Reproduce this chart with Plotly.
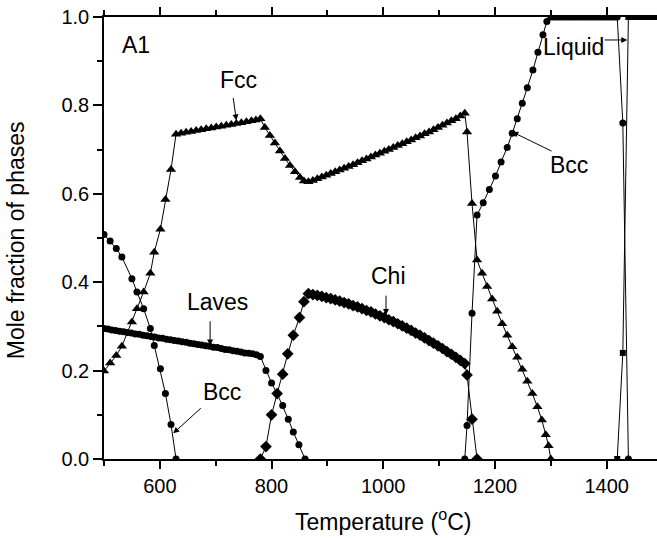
import plotly.graph_objects as go

# ---- phase fractions vs temperature (alloy A1) ----
fcc_T = [500, 511, 522, 532, 550, 559, 571, 583, 590, 601, 610, 620, 629,
         638, 647, 656, 665, 674, 683, 692, 701, 710, 719, 728, 737, 746, 755, 764, 772, 780,
         788, 797, 806, 815, 824, 833, 842, 851, 858,
         866, 874, 882, 890, 898, 906, 914, 922, 930, 938, 946, 954, 962, 970, 978, 986, 994,
         1002, 1010, 1018, 1026, 1034, 1042, 1050, 1058, 1066, 1074, 1082, 1090, 1098, 1106,
         1114, 1122, 1130, 1138, 1146,
         1150, 1159, 1168, 1177, 1186, 1195, 1204, 1213, 1222, 1231, 1240, 1249, 1258, 1267,
         1276, 1284, 1291, 1296, 1300]
fcc_f = [0.199, 0.217, 0.234, 0.255, 0.310, 0.340, 0.378, 0.420, 0.468, 0.520, 0.587, 0.655, 0.735,
         0.737, 0.739, 0.741, 0.743, 0.745, 0.747, 0.749, 0.751, 0.753, 0.755, 0.757, 0.759, 0.761,
         0.763, 0.765, 0.767, 0.770,
         0.750, 0.732, 0.715, 0.697, 0.680, 0.664, 0.650, 0.637, 0.629,
         0.627, 0.630, 0.634, 0.638, 0.642, 0.646, 0.650, 0.654, 0.658, 0.662, 0.666, 0.670, 0.675,
         0.679, 0.683, 0.688, 0.692, 0.696, 0.700, 0.705, 0.709, 0.713, 0.718, 0.722, 0.727, 0.731,
         0.736, 0.740, 0.745, 0.750, 0.755, 0.760, 0.765, 0.770, 0.776, 0.782,
         0.740, 0.578, 0.450, 0.420, 0.390, 0.362, 0.334, 0.306, 0.280, 0.254, 0.230, 0.203, 0.176,
         0.148, 0.118, 0.088, 0.055, 0.030, 0.000]

bcc_low_T = [500, 511, 522, 532, 550, 559, 571, 583, 590, 601, 610, 620, 629]
bcc_low_f = [0.508, 0.493, 0.476, 0.457, 0.408, 0.378, 0.340, 0.295, 0.257, 0.204, 0.148, 0.078, 0.000]

bcc_high_T = [1146, 1150, 1159, 1168, 1179, 1190, 1201, 1211, 1222, 1231, 1240, 1249, 1258, 1268,
              1277, 1286, 1293, 1300, 1305, 1310, 1315, 1320, 1325, 1330, 1335, 1340, 1345, 1350,
              1355, 1360, 1365, 1370, 1375, 1380, 1385, 1390, 1395, 1400, 1405, 1410, 1415, 1419,
              1429, 1439]
bcc_high_f = [0.000, 0.076, 0.330, 0.552, 0.580, 0.610, 0.640, 0.672, 0.705, 0.737, 0.770, 0.805,
              0.840, 0.880, 0.920, 0.960, 0.990, 1.000, 1.000, 1.000, 1.000, 1.000, 1.000, 1.000,
              1.000, 1.000, 1.000, 1.000, 1.000, 1.000, 1.000, 1.000, 1.000, 1.000, 1.000, 1.000,
              1.000, 1.000, 1.000, 1.000, 1.000, 1.000, 0.760, 0.000]

laves_T = [500, 507, 514, 521, 528, 535, 542, 549, 556, 563, 570, 577, 584, 591, 598, 605, 612,
           619, 626, 633, 640, 647, 654, 661, 668, 675, 682, 689, 696, 703, 710, 717, 724, 731,
           738, 745, 752, 759, 766, 773, 780,
           790, 800, 810, 820, 830, 839, 849, 860]
laves_f = [0.295, 0.294, 0.292, 0.291, 0.289, 0.288, 0.286, 0.285, 0.283, 0.282, 0.280, 0.279,
           0.277, 0.276, 0.274, 0.273, 0.271, 0.270, 0.268, 0.267, 0.265, 0.264, 0.262, 0.261,
           0.259, 0.258, 0.256, 0.255, 0.253, 0.252, 0.250, 0.248, 0.247, 0.245, 0.244, 0.242,
           0.240, 0.239, 0.238, 0.236, 0.232,
           0.200, 0.172, 0.148, 0.121, 0.090, 0.061, 0.032, 0.000]

chi_T = [780, 790, 800, 810, 820, 829, 839, 850, 858,
         866, 874, 882, 890, 898, 906, 914, 922, 930, 938, 946, 954, 962, 970, 978, 986, 994,
         1002, 1010, 1018, 1026, 1034, 1042, 1050, 1058, 1066, 1074, 1082, 1090, 1098, 1106,
         1114, 1122, 1130, 1138, 1146,
         1150, 1159, 1168]
chi_f = [0.000, 0.028, 0.100, 0.148, 0.192, 0.238, 0.280, 0.320, 0.356,
         0.374, 0.372, 0.370, 0.368, 0.365, 0.363, 0.360, 0.357, 0.354, 0.351, 0.347, 0.344,
         0.340, 0.336, 0.333, 0.328, 0.324, 0.320, 0.315, 0.311, 0.306, 0.301, 0.296, 0.291,
         0.285, 0.280, 0.274, 0.268, 0.262, 0.256, 0.250, 0.243, 0.237, 0.230, 0.223, 0.216,
         0.190, 0.090, 0.000]

liquid_T = [1419, 1429, 1439, 1444, 1449, 1454, 1459, 1464, 1469, 1474, 1479, 1484, 1489, 1494, 1499]
liquid_f = [0.000, 0.240, 1.000, 1.000, 1.000, 1.000, 1.000, 1.000, 1.000, 1.000, 1.000, 1.000,
            1.000, 1.000, 1.000]

FONT = "Arial, 'Liberation Sans', sans-serif"

series = [
    ("Fcc", fcc_T, fcc_f, "triangle-up", 9),
    ("Bcc", bcc_low_T, bcc_low_f, "circle", 7),
    ("Bcc ", bcc_high_T, bcc_high_f, "circle", 7),
    ("Laves", laves_T, laves_f, "circle", 7),
    ("Chi", chi_T, chi_f, "diamond", 9),
    ("Liquid", liquid_T, liquid_f, "square", 6),
]

fig = go.Figure()
for name, t, f, sym, size in series:
    fig.add_trace(go.Scatter(
        x=t, y=f, name=name, mode="lines+markers",
        line=dict(color="black", width=1),
        marker=dict(symbol=sym, size=size, color="black", line=dict(width=0)),
        showlegend=False,
    ))

# phase labels with pointer arrows: (text, label x, label y, tail x, tail y, head x, head y)
labels = [
    ("Fcc", 740, 0.857, 731, 0.820, 737, 0.766),
    ("Laves", 704, 0.355, 690, 0.315, 690, 0.257),
    ("Bcc", 712, 0.152, 676, 0.118, 624, 0.058),
    ("Chi", 1010, 0.414, 1005, 0.373, 1005, 0.326),
    ("Bcc", 1333, 0.665, 1304, 0.695, 1231, 0.740),
    ("Liquid", 1340, 0.932, 1394, 0.948, 1437, 0.948),
]
ann = []
for text, lx, ly, tx, ty, hx, hy in labels:
    ann.append(dict(x=lx, y=ly, xref="x", yref="y", text=text, showarrow=False,
                    font=dict(family=FONT, size=23, color="black")))
    ann.append(dict(x=hx, y=hy, ax=tx, ay=ty, xref="x", yref="y", axref="x", ayref="y",
                    text="", showarrow=True, arrowhead=2, arrowsize=1.2, arrowwidth=1,
                    arrowcolor="black", standoff=0, startstandoff=0))
ann.append(dict(x=557, y=0.937, xref="x", yref="y", text="A1", showarrow=False,
                font=dict(family=FONT, size=23, color="black")))
ann.append(dict(x=1000, y=-0.139, xref="x", yref="paper", text="Temperature (<sup>o</sup>C)",
                showarrow=False, yanchor="middle",
                font=dict(family=FONT, size=23, color="black")))
ann.append(dict(x=-0.159, y=0.495, xref="paper", yref="paper", text="Mole fraction of phases",
                showarrow=False, textangle=-90, xanchor="center", yanchor="middle",
                font=dict(family=FONT, size=23, color="black")))

fig.update_layout(
    width=657, height=538,
    margin=dict(l=104, r=0, t=17, b=79, pad=0),
    paper_bgcolor="white", plot_bgcolor="white",
    font=dict(family=FONT, color="black"),
    annotations=ann,
    xaxis=dict(
        range=[500, 1490.2], tick0=0, dtick=200,
        showgrid=False, zeroline=False,
        showline=True, linecolor="black", linewidth=1.6, mirror="ticks",
        ticks="outside", ticklen=8, tickwidth=1.5, tickcolor="black",
        tickfont=dict(family=FONT, size=20, color="black"),
        minor=dict(dtick=100, tick0=0, ticks="outside", ticklen=5, tickwidth=1.5,
                   tickcolor="black", showgrid=False),
    ),
    yaxis=dict(
        range=[0, 1], tick0=0, dtick=0.2, tickformat=".1f",
        showgrid=False, zeroline=False,
        showline=True, linecolor="black", linewidth=1.6,
        ticks="outside", ticklen=9, tickwidth=1.5, tickcolor="black",
        tickfont=dict(family=FONT, size=20, color="black"),
        minor=dict(dtick=0.1, tick0=0, ticks="outside", ticklen=5, tickwidth=1.5,
                   tickcolor="black", showgrid=False),
    ),
)

fig.write_html("out.html")
